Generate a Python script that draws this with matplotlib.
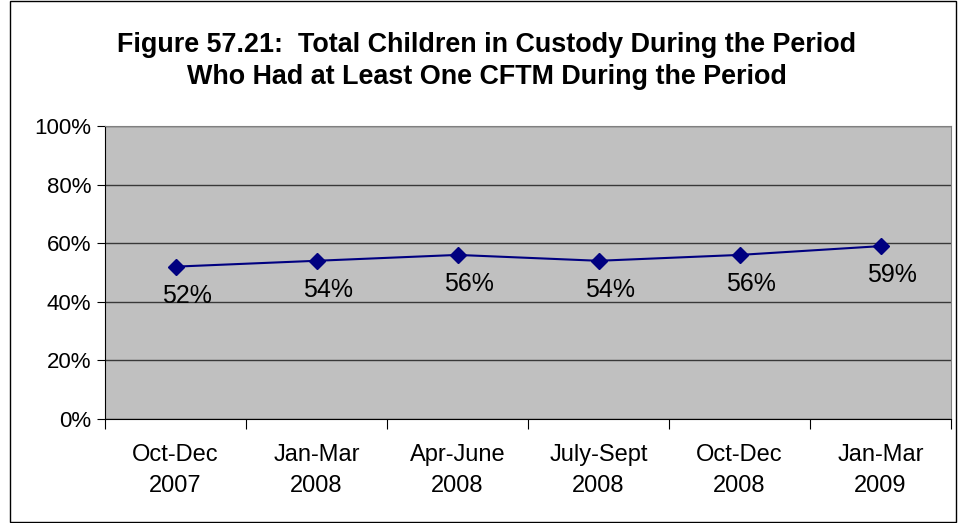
import matplotlib
matplotlib.use("Agg")
import matplotlib.pyplot as plt
import matplotlib.patches as mpatches
import numpy as np

periods = ["Oct-Dec\n2007", "Jan-Mar\n2008", "Apr-June\n2008",
           "July-Sept\n2008", "Oct-Dec\n2008", "Jan-Mar\n2009"]
pct = [52, 54, 56, 54, 56, 59]
y_ticks = [0, 20, 40, 60, 80, 100]

plt.rcParams["font.family"] = ["Liberation Sans", "DejaVu Sans"]

fig = plt.figure(figsize=(9.58, 5.23), dpi=100, facecolor="white")
ax = fig.add_axes([105 / 958, 1 - 419 / 523, 846 / 958, 293 / 523])

# outer chart frame
fig.patches.append(mpatches.Rectangle((10 / 958, 1 / 523), 946 / 958, 521 / 523,
                                      transform=fig.transFigure, fill=False,
                                      edgecolor="black", linewidth=1))

x = np.arange(len(pct)) + 0.5
ax.set_facecolor("#C0C0C0")
ax.plot(x, pct, color="#000080", linewidth=1.5, marker="D", markersize=8,
        markerfacecolor="#000080", markeredgecolor="#000080", zorder=3)

for xi, v in zip(x, pct):
    ax.annotate(f"{v}%", (xi, v), xytext=(8, -21), textcoords="offset points",
                ha="center", va="center", fontsize=18, color="black")

ax.set_xlim(0, len(pct))
ax.set_ylim(0, 100)
ax.set_yticks(y_ticks)
ax.set_yticklabels([f"{t}%" for t in y_ticks], fontsize=16)
ax.yaxis.grid(True, color="#383838", linewidth=1)
ax.set_axisbelow(True)

ax.set_xticks(np.arange(len(pct) + 1))
ax.set_xticklabels([])
ax.set_xticks(x, minor=True)
ax.set_xticklabels(periods, minor=True, fontsize=17, linespacing=1.5)
ax.tick_params(axis="x", which="minor", length=0, pad=18)
ax.tick_params(axis="x", which="major", length=7, direction="out", color="black")
ax.tick_params(axis="y", length=6, direction="out", color="black", pad=4)

ax.spines["top"].set_color("#808080")
ax.spines["right"].set_color("#808080")
ax.spines["left"].set_color("black")
ax.spines["bottom"].set_color("black")

fig.text(0.508, 1 - 45 / 523, "Figure 57.21:  Total Children in Custody During the Period",
         ha="center", va="center", fontsize=19.4, fontweight="bold")
fig.text(0.508, 1 - 77 / 523, "Who Had at Least One CFTM During the Period",
         ha="center", va="center", fontsize=19.4, fontweight="bold")

plt.savefig("out.png", dpi=100, facecolor="white")
plt.close()
